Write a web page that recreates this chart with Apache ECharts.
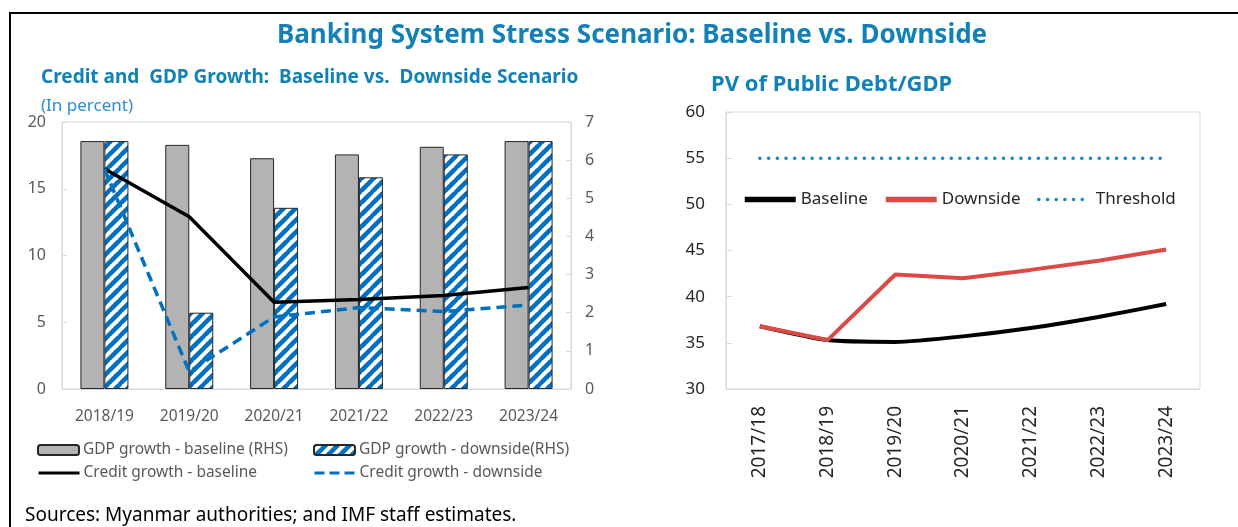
<!DOCTYPE html>
<html>
<head>
<meta charset="utf-8">
<script src="https://cdn.jsdelivr.net/npm/echarts@6/dist/echarts.min.js"></script>
<style>
    html, body { margin: 0; padding: 0; background: #fff; }
    #chart { width: 1238px; height: 527px; }
</style>
</head>
<body>
<div id="chart"></div>
<script>
// left panel: credit and GDP growth
let leftCats = ["2018/19", "2019/20", "2020/21", "2021/22", "2022/23", "2023/24"];
let gdpBaseline = [6.5, 6.4, 6.05, 6.15, 6.35, 6.5];
let gdpDownside = [6.5, 2.0, 4.75, 5.55, 6.15, 6.5];
let creditBaseline = [16.5, 12.9, 6.5, 6.7, 7.0, 7.6];
let creditDownside = [16.5, 1.3, 5.4, 6.1, 5.8, 6.3];

// right panel: PV of public debt / GDP
let rightCats = ["2017/18", "2018/19", "2019/20", "2020/21", "2021/22", "2022/23", "2023/24"];
let pvBaseline = [36.8, 35.3, 35.1, 35.7, 36.6, 37.8, 39.2];
let pvDownside = [36.8, 35.3, 42.4, 42.0, 42.9, 43.9, 45.1];
let pvThreshold = [55, 55, 55, 55, 55, 55, 55];

let FONT = '"Noto Sans", sans-serif';
let BLUE = "#0070c0";
let TITLE = "#1181b6";

// 斜线填充
function makeHatch() {
    let s = 12;
    let cv = document.createElement("canvas");
    cv.width = s;
    cv.height = s;
    let ctx = cv.getContext("2d");
    ctx.fillStyle = "#fff";
    ctx.fillRect(0, 0, s, s);
    ctx.strokeStyle = BLUE;
    ctx.lineWidth = 4.5;
    ctx.beginPath();
    for (let k = -1; k <= 1; k++) {
        ctx.moveTo(k * s - 1, s + 1);
        ctx.lineTo(k * s + s + 1, -1);
    }
    ctx.stroke();
    return cv;
}
let hatch = { image: makeHatch(), repeat: "repeat" };

function legendAt(name, left, top, opts) {
    return Object.assign({
        data: [name],
        left: left,
        top: top,
        padding: 0,
        itemGap: 0,
        itemWidth: 41,
        itemHeight: 10,
        textStyle: { color: "#595959", fontSize: 15.5, fontFamily: FONT, padding: [0, 0, 0, -1] },
        selectedMode: false
    }, opts || {});
}

let rightLegendText = { color: "#262626", fontSize: 17, fontFamily: FONT };

let mychart = echarts.init(document.getElementById("chart"));
let options = {
    animation: false,
    textStyle: { fontFamily: FONT },
    grid: [
        { left: 62, right: 667, top: 122, bottom: 138, show: true, borderColor: "#d9d9d9", borderWidth: 1 },
        { left: 726, right: 38, top: 112, bottom: 138, show: true, borderColor: "#d9d9d9", borderWidth: 1 }
    ],
    xAxis: [{
        type: "category",
        gridIndex: 0,
        data: leftCats,
        axisLine: { lineStyle: { color: "#d9d9d9" } },
        axisTick: { inside: true, length: 5, lineStyle: { color: "#d9d9d9" } },
        axisLabel: { color: "#595959", fontSize: 15.5, margin: 20 }
    }, {
        type: "category",
        gridIndex: 1,
        data: rightCats,
        axisLine: { lineStyle: { color: "#d9d9d9" } },
        axisTick: { inside: true, length: 7, interval: 1, lineStyle: { color: "#d9d9d9" } },
        axisLabel: { color: "#262626", fontSize: 19, rotate: 90, interval: 0, margin: 17 }
    }],
    yAxis: [{
        type: "value",
        gridIndex: 0,
        min: 0, max: 20, interval: 5,
        splitLine: { show: false },
        axisLine: { show: true, lineStyle: { color: "#d9d9d9" } },
        axisTick: { show: true, inside: true, length: 5, lineStyle: { color: "#d9d9d9" } },
        axisLabel: { color: "#595959", fontSize: 16, margin: 16 }
    }, {
        type: "value",
        gridIndex: 0,
        position: "right",
        min: 0, max: 7, interval: 1,
        splitLine: { show: false },
        axisLine: { show: true, lineStyle: { color: "#d9d9d9" } },
        axisTick: { show: true, inside: true, length: 5, lineStyle: { color: "#d9d9d9" } },
        axisLabel: { color: "#595959", fontSize: 16, margin: 14 }
    }, {
        type: "value",
        gridIndex: 1,
        min: 30, max: 60, interval: 5,
        splitLine: { show: false },
        axisLine: { show: true, lineStyle: { color: "#d9d9d9" } },
        axisTick: { show: true, inside: true, length: 6, lineStyle: { color: "#d9d9d9" } },
        axisLabel: { color: "#262626", fontSize: 17, margin: 21 }
    }],
    legend: [
        legendAt("GDP growth - baseline (RHS)", 37, 442),
        legendAt("GDP growth - downside(RHS)", 313, 442),
        legendAt("Credit growth - baseline", 37, 465, {
            itemStyle: { opacity: 0 },
            lineStyle: { width: 3 }
        }),
        legendAt("Credit growth - downside", 313, 465, {
            itemStyle: { opacity: 0 },
            lineStyle: { width: 3, type: [10, 5] }
        }),
        legendAt("Baseline", 742, 191, {
            itemWidth: 51, itemHeight: 14,
            textStyle: rightLegendText,
            itemStyle: { opacity: 0 },
            lineStyle: { width: 5.5 }
        }),
        legendAt("Downside", 883, 191, {
            itemWidth: 51, itemHeight: 14,
            textStyle: rightLegendText,
            itemStyle: { opacity: 0 },
            lineStyle: { width: 5.5 }
        }),
        legendAt("Threshold", 1037, 191, {
            itemWidth: 46, itemHeight: 14,
            textStyle: Object.assign({ padding: [0, 0, 0, 6] }, rightLegendText),
            itemStyle: { opacity: 0 },
            lineStyle: { width: 3.5, type: [0.1, 8.6], cap: "round" }
        })
    ],
    series: [{
        name: "GDP growth - baseline (RHS)",
        type: "bar",
        xAxisIndex: 0,
        yAxisIndex: 1,
        data: gdpBaseline,
        barWidth: 24,
        barGap: "0%",
        itemStyle: { color: "#b3b3b3", borderColor: "#262626", borderWidth: 1 }
    }, {
        name: "GDP growth - downside(RHS)",
        type: "bar",
        xAxisIndex: 0,
        yAxisIndex: 1,
        data: gdpDownside,
        barWidth: 24,
        barGap: "0%",
        itemStyle: { color: hatch, borderColor: "#262626", borderWidth: 1 }
    }, {
        name: "Credit growth - baseline",
        type: "line",
        xAxisIndex: 0,
        yAxisIndex: 0,
        data: creditBaseline,
        symbol: "none",
        lineStyle: { color: "#000", width: 3.5 },
        itemStyle: { color: "#000" },
        z: 5
    }, {
        name: "Credit growth - downside",
        type: "line",
        xAxisIndex: 0,
        yAxisIndex: 0,
        data: creditDownside,
        symbol: "none",
        lineStyle: { color: BLUE, width: 3.5, type: [10, 6] },
        itemStyle: { color: BLUE },
        z: 5
    }, {
        name: "Threshold",
        type: "line",
        xAxisIndex: 1,
        yAxisIndex: 2,
        data: pvThreshold,
        symbol: "none",
        lineStyle: { color: "#0f8bbf", width: 3.5, type: [0.1, 8.6], cap: "round" },
        itemStyle: { color: "#0f8bbf" }
    }, {
        name: "Baseline",
        type: "line",
        xAxisIndex: 1,
        yAxisIndex: 2,
        data: pvBaseline,
        symbol: "none",
        smooth: 0.2,
        lineStyle: { color: "#000", width: 4 },
        itemStyle: { color: "#000" }
    }, {
        name: "Downside",
        type: "line",
        xAxisIndex: 1,
        yAxisIndex: 2,
        data: pvDownside,
        symbol: "none",
        lineStyle: { color: "#dc4a46", width: 4 },
        itemStyle: { color: "#dc4a46" },
        z: 3
    }],
    graphic: [{
        type: "line",
        shape: { x1: 9, y1: 13, x2: 1238, y2: 13 },
        style: { stroke: "#000", lineWidth: 2 }
    }, {
        type: "line",
        shape: { x1: 10, y1: 12, x2: 10, y2: 527 },
        style: { stroke: "#000", lineWidth: 2 }
    }, {
        type: "text",
        x: 632, y: 36,
        style: { text: "Banking System Stress Scenario: Baseline vs. Downside", fill: TITLE,
            font: 'bold 26px "Noto Sans"', textAlign: "center", textVerticalAlign: "middle" }
    }, {
        type: "text",
        x: 41, y: 78,
        style: { text: "Credit and  GDP Growth:  Baseline vs.  Downside Scenario", fill: TITLE,
            font: 'bold 19px "Noto Sans"', textAlign: "left", textVerticalAlign: "middle" }
    }, {
        type: "text",
        x: 41, y: 106,
        style: { text: "(In percent)", fill: "#2a8fd0",
            font: '17px "Noto Sans"', textAlign: "left", textVerticalAlign: "middle" }
    }, {
        type: "text",
        x: 711, y: 85,
        style: { text: "PV of Public Debt/GDP", fill: TITLE,
            font: 'bold 22px "Noto Sans"', textAlign: "left", textVerticalAlign: "middle" }
    }, {
        type: "text",
        x: 25, y: 516,
        style: { text: "Sources: Myanmar authorities; and IMF staff estimates.", fill: "#000",
            font: '19px "Noto Sans"', textAlign: "left", textVerticalAlign: "middle" }
    }]
};
mychart.setOption(options);
</script>
</body>
</html>
